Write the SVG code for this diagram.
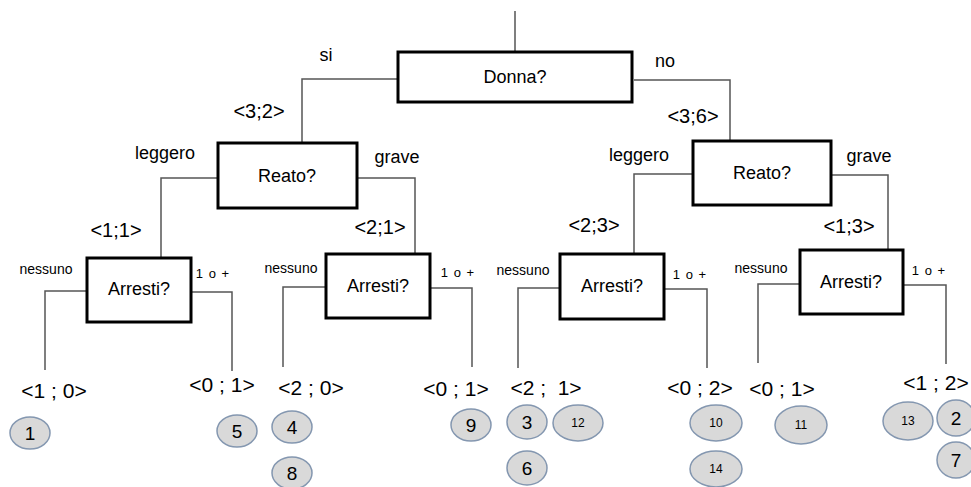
<svg xmlns="http://www.w3.org/2000/svg" width="971" height="487" viewBox="0 0 971 487">
<style>
.box{fill:#fff;stroke:#000;stroke-width:3}
.con{fill:none;stroke:#555;stroke-width:1.5}
.t{font-family:"Liberation Sans","Open Sans",sans-serif;fill:#000;text-anchor:middle}
.q{font-size:18px}
.lab{font-size:18px}
.cnt{font-size:20px}
.leaf{font-size:21px}
.sm{font-size:14px}
.sp{font-size:13px;letter-spacing:1px}
.c{fill:#d9d9d9;stroke:#8497b0;stroke-width:1.5}
.n{font-size:19px}
.ns{font-size:12px}
</style>
<rect width="971" height="487" fill="#fff"/>
<g id="connectors">
<path class="con" d="M515 11V52"/>
<path class="con" d="M397 79H302V142"/>
<path class="con" d="M634 80H730V140"/>
<path class="con" d="M217 178H161V258"/>
<path class="con" d="M357 178H415V254"/>
<path class="con" d="M692 174H634V254"/>
<path class="con" d="M831 175H888V250"/>
<path class="con" d="M87 291H45V370"/>
<path class="con" d="M191 292H232V371"/>
<path class="con" d="M326 287H283V367"/>
<path class="con" d="M430 288H472V367"/>
<path class="con" d="M560 288H518V368"/>
<path class="con" d="M664 289H707V368"/>
<path class="con" d="M800 284H758V363"/>
<path class="con" d="M903 285H946V364"/>
</g>
<g id="labels">
<text class="t lab" x="326" y="61">si</text>
<text class="t lab" x="665" y="67">no</text>
<text class="t cnt" x="259" y="118">&lt;3;2&gt;</text>
<text class="t cnt" x="693" y="123">&lt;3;6&gt;</text>
<text class="t lab" x="165" y="159">leggero</text>
<text class="t lab" x="397" y="163">grave</text>
<text class="t lab" x="639" y="161">leggero</text>
<text class="t lab" x="869" y="162">grave</text>
<text class="t cnt" x="116" y="237">&lt;1;1&gt;</text>
<text class="t cnt" x="380" y="234">&lt;2;1&gt;</text>
<text class="t cnt" x="594" y="232">&lt;2;3&gt;</text>
<text class="t cnt" x="849" y="233">&lt;1;3&gt;</text>
<text class="t sm" x="46" y="274">nessuno</text>
<text class="t sp" x="213" y="278">1 o +</text>
<text class="t sm" x="291" y="273">nessuno</text>
<text class="t sp" x="458" y="277">1 o +</text>
<text class="t sm" x="523" y="275">nessuno</text>
<text class="t sp" x="690" y="279">1 o +</text>
<text class="t sm" x="761" y="273">nessuno</text>
<text class="t sp" x="929" y="275">1 o +</text>
</g>
<g id="donna"><rect class="box" x="398" y="52" width="234" height="50"/><text class="t q" x="515" y="83">Donna?</text></g>
<g id="reato-left"><rect class="box" x="218" y="143" width="139" height="65"/><text class="t q" x="287" y="182">Reato?</text></g>
<g id="reato-right"><rect class="box" x="693" y="141" width="138" height="64"/><text class="t q" x="762" y="179">Reato?</text></g>
<g id="arresti-1"><rect class="box" x="87" y="258" width="104" height="64"/><text class="t q" x="139" y="295">Arresti?</text></g>
<g id="arresti-2"><rect class="box" x="326" y="254" width="104" height="64"/><text class="t q" x="378" y="292">Arresti?</text></g>
<g id="arresti-3"><rect class="box" x="560" y="254" width="104" height="65"/><text class="t q" x="612" y="292">Arresti?</text></g>
<g id="arresti-4"><rect class="box" x="800" y="250" width="103" height="64"/><text class="t q" x="851" y="288">Arresti?</text></g>
<g id="leaf-1"><text class="t leaf" x="54" y="398">&lt;1 ; 0&gt;</text>
<ellipse class="c" cx="30" cy="433" rx="20" ry="16"/><text class="t n" x="30" y="440">1</text></g>
<g id="leaf-2"><text class="t leaf" x="222" y="392">&lt;0 ; 1&gt;</text>
<ellipse class="c" cx="237" cy="431" rx="20" ry="16"/><text class="t n" x="237" y="438">5</text></g>
<g id="leaf-3"><text class="t leaf" x="311" y="395">&lt;2 ; 0&gt;</text>
<ellipse class="c" cx="292" cy="427" rx="20" ry="16"/><text class="t n" x="292" y="434">4</text>
<ellipse class="c" cx="292" cy="473" rx="20" ry="16"/><text class="t n" x="292" y="480">8</text></g>
<g id="leaf-4"><text class="t leaf" x="456" y="396">&lt;0 ; 1&gt;</text>
<ellipse class="c" cx="471" cy="425" rx="20" ry="16"/><text class="t n" x="471" y="432">9</text></g>
<g id="leaf-5"><text class="t leaf" x="546" y="395" xml:space="preserve">&lt;2 ;  1&gt;</text>
<ellipse class="c" cx="527" cy="422" rx="20" ry="17"/><text class="t n" x="527" y="429">3</text>
<ellipse class="c" cx="578" cy="423" rx="25" ry="18"/><text class="t ns" x="578" y="427">12</text>
<ellipse class="c" cx="527" cy="468" rx="20" ry="17"/><text class="t n" x="527" y="475">6</text></g>
<g id="leaf-6"><text class="t leaf" x="700" y="395">&lt;0 ; 2&gt;</text>
<ellipse class="c" cx="716" cy="423" rx="26" ry="18"/><text class="t ns" x="716" y="427">10</text>
<ellipse class="c" cx="716" cy="469" rx="26" ry="18"/><text class="t ns" x="716" y="473">14</text></g>
<g id="leaf-7"><text class="t leaf" x="782" y="396">&lt;0 ; 1&gt;</text>
<ellipse class="c" cx="801" cy="425" rx="26" ry="19"/><text class="t ns" x="801" y="429">11</text></g>
<g id="leaf-8"><text class="t leaf" x="936" y="390">&lt;1 ; 2&gt;</text>
<ellipse class="c" cx="908" cy="421" rx="25" ry="19"/><text class="t ns" x="908" y="425">13</text>
<ellipse class="c" cx="956" cy="418" rx="19" ry="18"/><text class="t n" x="956" y="425">2</text>
<ellipse class="c" cx="956" cy="460" rx="19" ry="18"/><text class="t n" x="956" y="467">7</text></g>
</svg>
